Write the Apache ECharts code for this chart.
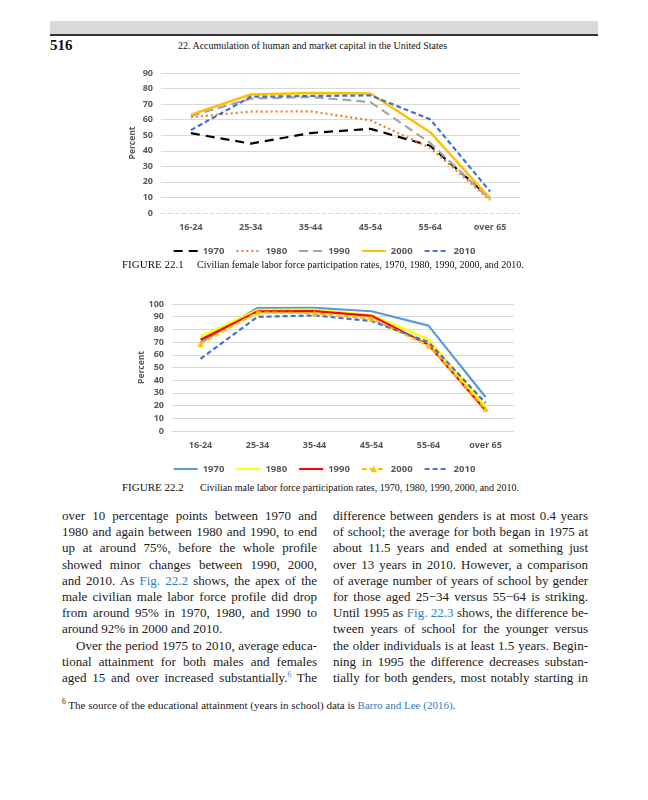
<!DOCTYPE html>
<html>
<head>
<meta charset="utf-8">
<script src="https://cdn.jsdelivr.net/npm/echarts@6/dist/echarts.min.js"></script>
<style>
  html, body { margin:0; padding:0; background:#fff; }
  #page { position:relative; width:648px; height:800px; overflow:hidden; background:#fff; }
  .band { position:absolute; left:50px; top:21px; width:548px; height:13px; background:#d9d9d9; }
  .rule { position:absolute; left:50px; top:34px; width:548px; height:1.5px; background:#333; }
  .pnum { position:absolute; left:50px; top:37px; font-family:"Liberation Serif","DejaVu Serif",serif; font-weight:bold; font-size:15px; color:#111; }
  .rhead { position:absolute; left:178px; top:40px; font-family:"Liberation Serif","DejaVu Serif",serif; font-size:10px; color:#111; white-space:nowrap; }
  .chart { position:absolute; left:0; width:648px; }
  .cap { position:absolute; font-family:"Liberation Serif","DejaVu Serif",serif; color:#111; white-space:nowrap; }
  .capA { font-size:11px; }
  .capB { font-size:10px; }
  .ln { position:absolute; font-family:"Liberation Serif","DejaVu Serif",serif; font-size:13px; line-height:16px; color:#1a1a1a; white-space:nowrap; }
  .ln span.t { display:inline-block; }
  .lnk { color:#2f7dbf; }
  sup { font-size:7.5px; vertical-align:5px; line-height:0; }
  .foot { position:absolute; left:62px; top:699px; font-family:"Liberation Serif","DejaVu Serif",serif; font-size:11px; color:#1a1a1a; white-space:nowrap; }
</style>
</head>
<body>
<div id="page">
  <div class="band"></div>
  <div class="rule"></div>
  <div class="pnum">516</div>
  <div class="rhead">22. Accumulation of human and market capital in the United States</div>

  <div id="c1" class="chart" style="top:55px;height:205px;"></div>
  <div class="cap capA" style="left:122px;top:258px;">FIGURE 22.1</div>
  <div class="cap capB" style="left:197px;top:259px;">Civilian female labor force participation rates, 1970, 1980, 1990, 2000, and 2010.</div>

  <div id="c2" class="chart" style="top:290px;height:185px;"></div>
  <div class="cap capA" style="left:122px;top:481px;">FIGURE 22.2</div>
  <div class="cap capB" style="left:200px;top:482px;">Civilian male labor force participation rates, 1970, 1980, 1990, 2000, and 2010.</div>

  <div id="text"></div>
  <div class="foot"><sup>6</sup> The source of the educational attainment (years in school) data is <span class="lnk">Barro and Lee (2016)</span>.</div>
</div>
<script>
// ---------- data ----------
const ageGroups = ['16-24', '25-34', '35-44', '45-54', '55-64', 'over 65'];
const years = ['1970', '1980', '1990', '2000', '2010'];
const yTicks1 = [0, 10, 20, 30, 40, 50, 60, 70, 80, 90];
const yTicks2 = [0, 10, 20, 30, 40, 50, 60, 70, 80, 90, 100];

// Female participation (%)
const female1970 = [51.3, 44.6, 51.4, 54.1, 43.2, 9.7];
const female1980 = [61.6, 65.2, 65.3, 59.6, 41.9, 8.3];
const female1990 = [62.4, 73.5, 74.6, 71.3, 45.0, 8.6];
const female2000 = [63.2, 76.2, 77.1, 76.8, 51.9, 9.4];
const female2010 = [53.3, 74.7, 75.2, 75.6, 60.2, 13.8];

// Male participation (%)
const male1970 = [69.5, 96.8, 97.0, 94.3, 83.0, 26.8];
const male1980 = [74.4, 95.2, 95.5, 91.2, 72.1, 19.0];
const male1990 = [71.8, 94.2, 94.4, 90.7, 67.8, 16.3];
const male2000 = [68.6, 93.4, 92.7, 88.5, 67.3, 17.5];
const male2010 = [56.8, 89.9, 91.0, 86.6, 70.0, 22.1];

// ---------- text ----------
const leftLines = [
  ['over 10 percentage points between 1970 and', true],
  ['1980 and again between 1980 and 1990, to end', true],
  ['up at around 75%, before the whole profile', true],
  ['showed minor changes between 1990, 2000,', true],
  ['and 2010. As <span class="lnk">Fig. 22.2</span> shows, the apex of the', true],
  ['male civilian male labor force profile did drop', true],
  ['from around 95% in 1970, 1980, and 1990 to', true],
  ['around 92% in 2000 and 2010.', false],
  ['Over the period 1975 to 2010, average educa-', true, 14],
  ['tional attainment for both males and females', true],
  ['aged 15 and over increased substantially.<sup class="lnk">6</sup> The', true]
];
const rightLines = [
  ['difference between genders is at most 0.4 years', true],
  ['of school; the average for both began in 1975 at', true],
  ['about 11.5 years and ended at something just', true],
  ['over 13 years in 2010. However, a comparison', true],
  ['of average number of years of school by gender', true],
  ['for those aged 25\u221234 versus 55\u221264 is striking.', true],
  ['Until 1995 as <span class="lnk">Fig. 22.3</span> shows, the difference be-', true],
  ['tween years of school for the younger versus', true],
  ['the older individuals is at least 1.5 years. Begin-', true],
  ['ning in 1995 the difference decreases substan-', true],
  ['tially for both genders, most notably starting in', true]
];

const textBox = document.getElementById('text');
function placeColumn(lines, x, width) {
  lines.forEach((l, i) => {
    const d = document.createElement('div');
    d.className = 'ln';
    const indent = l[2] || 0;
    d.style.left = (x + indent) + 'px';
    d.style.top = (508 + i * 16.2) + 'px';
    const s = document.createElement('span');
    s.className = 't';
    s.innerHTML = l[0];
    d.appendChild(s);
    textBox.appendChild(d);
    const target = width - indent;
    const natural = s.getBoundingClientRect().width;
    const spaces = (s.textContent.match(/ /g) || []).length;
    if (spaces > 0 && (l[1] || natural > target)) {
      s.style.wordSpacing = ((target - natural) / spaces) + 'px';
    }
  });
}
placeColumn(leftLines, 62, 255);
placeColumn(rightLines, 333, 255);

// ---------- charts ----------
const tickFont = { fontFamily: 'Open Sans', fontWeight: 'bold', fontSize: 9, color: '#595959' };

function baseOption(grid, yMax, ticks, legendTop, dashedZero, nameGap, legendData) {
  return {
    animation: false,
    grid: grid,
    legend: {
      top: legendTop, left: 'center',
      itemWidth: 24, itemHeight: 8, itemGap: 11,
      itemStyle: { opacity: 0 },
      textStyle: Object.assign({}, tickFont, { fontSize: 9.5 }),
      data: legendData
    },
    xAxis: {
      type: 'category', data: ageGroups, boundaryGap: true,
      axisTick: { show: false },
      axisLine: { show: true, lineStyle: { color: '#d9d9d9', width: 1, type: dashedZero ? [4, 3] : 'solid' } },
      axisLabel: Object.assign({ margin: 10 }, tickFont)
    },
    yAxis: {
      type: 'value', min: 0, max: yMax, interval: 10,
      name: 'Percent', nameLocation: 'middle', nameGap: nameGap, nameRotate: 90,
      nameMoveOverlap: false,
      nameTextStyle: Object.assign({}, tickFont, { fontSize: 8.5 }),
      axisLine: { show: false }, axisTick: { show: false },
      axisLabel: Object.assign({ margin: 8, formatter: v => ticks.indexOf(v) >= 0 ? String(v) : '' }, tickFont),
      splitLine: { show: true, showMinLine: false, lineStyle: { color: '#d9d9d9', width: 1 } }
    }
  };
}

function lineSeries(name, data, color, width, type, symbol) {
  return {
    name: name, type: 'line', data: data,
    symbol: symbol || 'none', symbolSize: 6,
    itemStyle: { color: color },
    lineStyle: { color: color, width: width, type: type, cap: 'butt' },
    z: 2
  };
}

const c1 = echarts.init(document.getElementById('c1'), null, { renderer: 'canvas' });
const o1 = baseOption({ left: 161, right: 128, top: 18, height: 140 }, 90, yTicks1, 186, true, 24, years);
o1.series = [
  lineSeries('1970', female1970, '#000000', 2.2, [9, 6]),
  lineSeries('1980', female1980, '#ED7D31', 2.2, [2, 3]),
  lineSeries('1990', female1990, '#A5A5A5', 2.2, [9, 5]),
  lineSeries('2000', female2000, '#FFC000', 2.5, 'solid'),
  lineSeries('2010', female2010, '#4472C4', 2.2, [5, 3])
];
c1.setOption(o1);

const c2 = echarts.init(document.getElementById('c2'), null, { renderer: 'canvas' });
const legend2 = years.map(y => y === '2000' ? { name: y, itemStyle: { opacity: 1 } } : { name: y });
const o2 = baseOption({ left: 172, right: 134, top: 14, height: 127 }, 100, yTicks2, 169, false, 26, legend2);
o2.series = [
  lineSeries('1970', male1970, '#5B9BD5', 2.2, 'solid'),
  lineSeries('1980', male1980, '#FFFF00', 2.5, 'solid'),
  lineSeries('1990', male1990, '#FF0000', 2.2, 'solid'),
  lineSeries('2000', male2000, '#FFC000', 2.2, [5, 3], 'triangle'),
  lineSeries('2010', male2010, '#4472C4', 2.2, [5, 3])
];
c2.setOption(o2);
</script>
</body>
</html>
